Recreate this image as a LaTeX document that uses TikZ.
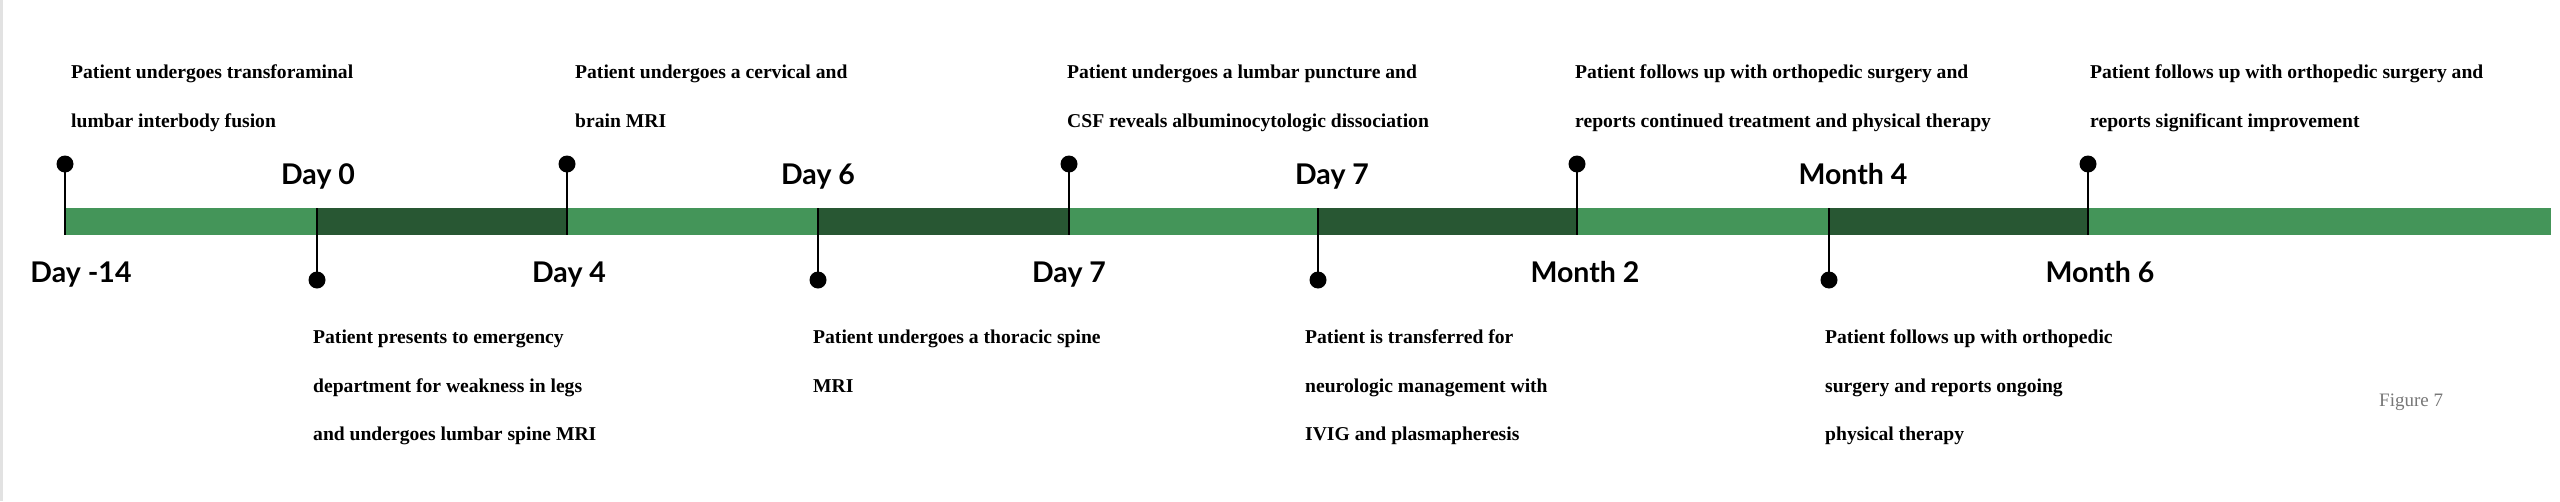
\documentclass[tikz,border=0pt]{standalone}
\usepackage{fontspec}
\setmainfont{Liberation Serif}
\newfontfamily\lblfont{Lato}
\definecolor{lightg}{HTML}{449559}
\definecolor{darkg}{HTML}{285733}
\definecolor{figgray}{HTML}{777777}
\definecolor{edgegray}{HTML}{E2E2E2}
\begin{document}
\begin{tikzpicture}[x=1pt,y=-1pt,
  evt/.style={anchor=base west, inner sep=0pt, font=\fontsize{19.6}{23}\selectfont\bfseries},
  lbl/.style={anchor=base, inner sep=0pt, font=\lblfont\fontsize{28.5}{34}\selectfont\bfseries},
  pin/.style={circle, fill=black, inner sep=0pt, minimum size=17pt},
  stem/.style={line width=2pt, black},
  lightseg/.style={fill=lightg},
  darkseg/.style={fill=darkg}]
\useasboundingbox (0,0) rectangle (2560,501);
\fill[white] (0,0) rectangle (2560,501);
\fill[edgegray] (0,0) rectangle (3,501);

% bar
\coordinate (bartop) at (0,208);
\coordinate (barbot) at (0,235);
\fill[lightseg] (65,208) rectangle (2551,235);
\fill[darkseg] (317,208) rectangle (567,235);
\fill[darkseg] (818,208) rectangle (1069,235);
\fill[darkseg] (1318,208) rectangle (1577,235);
\fill[darkseg] (1829,208) rectangle (2088,235);

% top pins
\node[pin] (t1) at (65,164) {};
\node[pin] (t2) at (567,164) {};
\node[pin] (t3) at (1069,164) {};
\node[pin] (t4) at (1577,164) {};
\node[pin] (t5) at (2088,164) {};
\foreach \p in {t1,t2,t3,t4,t5} \draw[stem] (\p.center) -- (\p |- barbot);

% bottom pins
\node[pin] (b1) at (317,280) {};
\node[pin] (b2) at (818,280) {};
\node[pin] (b3) at (1318,280) {};
\node[pin] (b4) at (1829,280) {};
\foreach \p in {b1,b2,b3,b4} \draw[stem] (\p.center) -- (\p |- bartop);

% time labels above
\node[lbl] (l0) at (318,184) {Day 0};
\node[lbl] (l6) at (818,184) {Day 6};
\node[lbl] (l7a) at (1332,184) {Day 7};
\node[lbl] (lm4) at (1853,184) {Month 4};
% time labels below
\node[lbl] (lm14) at (81,282) {Day -14};
\node[lbl] (l4) at (569,282) {Day 4};
\node[lbl] (l7b) at (1069,282) {Day 7};
\node[lbl] (lm2) at (1585,282) {Month 2};
\node[lbl] (lm6) at (2100,282) {Month 6};

% top events
\node[evt] (e1a) at (71,78) {Patient undergoes transforaminal};
\node[evt] (e1b) at (71,127) {lumbar interbody fusion};
\node[evt] (e2a) at (575,78) {Patient undergoes a cervical and};
\node[evt] (e2b) at (575,127) {brain MRI};
\node[evt] (e3a) at (1067,78) {Patient undergoes a lumbar puncture and};
\node[evt] (e3b) at (1067,127) {CSF reveals albuminocytologic dissociation};
\node[evt] (e4a) at (1575,78) {Patient follows up with orthopedic surgery and};
\node[evt] (e4b) at (1575,127) {reports continued treatment and physical therapy};
\node[evt] (e5a) at (2090,78) {Patient follows up with orthopedic surgery and};
\node[evt] (e5b) at (2090,127) {reports significant improvement};

% bottom events
\node[evt] (f1a) at (313,343) {Patient presents to emergency};
\node[evt] (f1b) at (313,392) {department for weakness in legs};
\node[evt] (f1c) at (313,440) {and undergoes lumbar spine MRI};
\node[evt] (f2a) at (813,343) {Patient undergoes a thoracic spine};
\node[evt] (f2b) at (813,392) {MRI};
\node[evt] (f3a) at (1305,343) {Patient is transferred for};
\node[evt] (f3b) at (1305,392) {neurologic management with};
\node[evt] (f3c) at (1305,440) {IVIG and plasmapheresis};
\node[evt] (f4a) at (1825,343) {Patient follows up with orthopedic};
\node[evt] (f4b) at (1825,392) {surgery and reports ongoing};
\node[evt] (f4c) at (1825,440) {physical therapy};

\node[anchor=base west, inner sep=0pt, text=figgray, font=\fontsize{19}{23}\selectfont] (fig) at (2379,406) {Figure 7};
\end{tikzpicture}
\end{document}
